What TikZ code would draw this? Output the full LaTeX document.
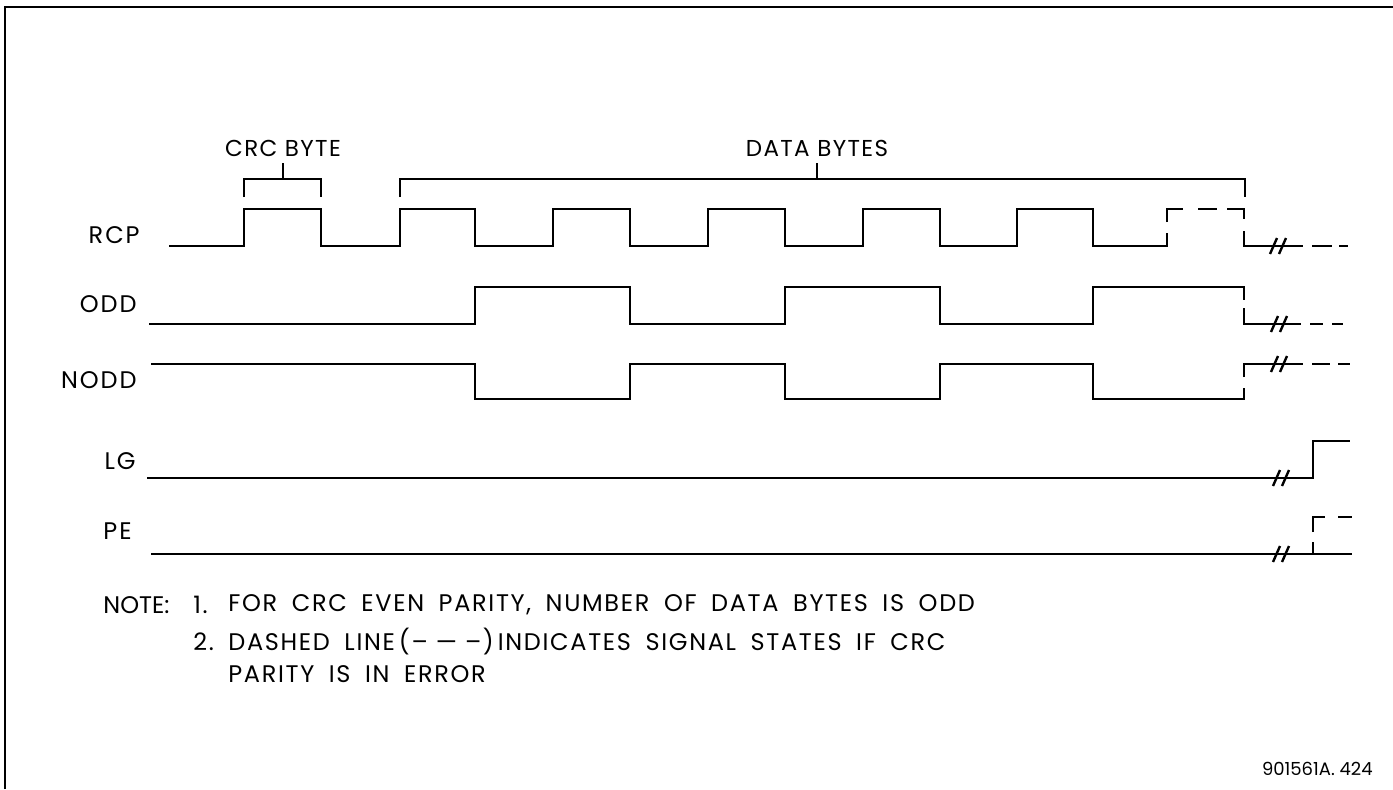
\documentclass[tikz,border=0pt]{standalone}
\usepackage{fontspec}
\setmainfont{Poppins}
\newfontfamily\sigfont[LetterSpace=8]{Poppins}
\newfontfamily\notefont[LetterSpace=7, WordSpace=1.8]{Poppins}
\newfontfamily\brkfont[LetterSpace=6]{Poppins}

% break mark: two slanted strokes across a line
\newcommand{\brkmark}[2]{%
  \draw[sig] (#1-6,#2+8) -- (#1+1,#2-8);
  \draw[sig] (#1+3,#2+8) -- (#1+10,#2-8);}

\begin{document}
\begin{tikzpicture}[x=0.5pt, y=-0.5pt,
    sig/.style={line width=1.2pt},
    lbl/.style={anchor=east, inner sep=0pt, font=\sigfont\fontsize{12}{14}\selectfont},
    brk/.style={inner sep=0pt, font=\brkfont\fontsize{11.5}{13}\selectfont},
    txt/.style={anchor=west, inner sep=0pt, font=\notefont\fontsize{12}{14}\selectfont}]
    \useasboundingbox (0,0) rectangle (1393,789);

    % Frame
    \draw[line width=1.4pt] (5,789) -- (5,7) -- (1393,7);

    % Signal names
    \node[lbl] (rcp) at (140,235) {RCP};
    \node[lbl] (odd) at (137,304) {ODD};
    \node[lbl] (nodd) at (137,380) {NODD};
    \node[lbl] (lg) at (136,461) {LG};
    \node[lbl] (pe) at (132,531) {PE};

    % Brackets
    \draw[sig] (244,197) -- (244,179) -- (321,179) -- (321,197);
    \draw[sig] (283,179) -- (283,163);
    \node[brk] (crc) at (283,148) {CRC BYTE};
    \draw[sig] (400,197) -- (400,179) -- (1245,179) -- (1245,197);
    \draw[sig] (817,179) -- (817,163);
    \node[brk] (data) at (817,148) {DATA BYTES};

    % RCP
    \draw[sig] (169,246) -- (244,246) -- (244,209) -- (321,209) -- (321,246)
      -- (400,246) -- (400,209) -- (475,209) -- (475,246)
      -- (553,246) -- (553,209) -- (630,209) -- (630,246)
      -- (708,246) -- (708,209) -- (785,209) -- (785,246)
      -- (863,246) -- (863,209) -- (940,209) -- (940,246)
      -- (1017,246) -- (1017,209) -- (1093,209) -- (1093,246)
      -- (1167,246) -- (1167,233);
    \draw[sig] (1167,222) -- (1167,209) -- (1183,209);
    \draw[sig] (1198,209) -- (1217,209);
    \draw[sig] (1227,209) -- (1244,209) -- (1244,219);
    \draw[sig] (1244,231) -- (1244,246) -- (1303,246);
    \brkmark{1276}{246}
    \draw[sig] (1312,246) -- (1332,246);
    \draw[sig] (1339,246) -- (1348,246);

    % ODD
    \draw[sig] (149,324) -- (475,324) -- (475,287) -- (630,287) -- (630,324)
      -- (785,324) -- (785,287) -- (940,287) -- (940,324)
      -- (1093,324) -- (1093,287) -- (1244,287) -- (1244,300);
    \draw[sig] (1244,308) -- (1244,324) -- (1301,324);
    \brkmark{1277}{324}
    \draw[sig] (1310,324) -- (1323,324);
    \draw[sig] (1332,324) -- (1343,324);

    % NODD
    \draw[sig] (151,364) -- (475,364) -- (475,399) -- (630,399) -- (630,364)
      -- (785,364) -- (785,399) -- (940,399) -- (940,364)
      -- (1093,364) -- (1093,399) -- (1244,399) -- (1244,388);
    \draw[sig] (1244,377) -- (1244,364) -- (1303,364);
    \brkmark{1277}{364}
    \draw[sig] (1312,364) -- (1330,364);
    \draw[sig] (1338,364) -- (1350,364);

    % LG
    \draw[sig] (147,478) -- (1313,478) -- (1313,441) -- (1350,441);
    \brkmark{1279}{478}

    % PE
    \draw[sig] (151,554) -- (1352,554);
    \brkmark{1279}{554}
    \draw[sig] (1313,554) -- (1313,542);
    \draw[sig] (1313,532) -- (1313,517) -- (1325,517);
    \draw[sig] (1338,517) -- (1352,517);

    % Notes
    \node[txt, font=\fontsize{12}{14}\selectfont] (note) at (103,605) {NOTE:};
    \node[txt] (n1) at (193,605) {1.};
    \node[txt] (t1) at (228,605) {FOR CRC EVEN PARITY,\ NUMBER OF DATA BYTES IS ODD};
    \node[txt] (n2) at (193,642) {2.};
    \node[txt] (t2) at (228,642) {DASHED LINE\,(–\,\,—\,\,–)\,INDICATES SIGNAL STATES IF CRC};
    \node[txt] (t3) at (228,674) {PARITY IS IN ERROR};

    % Drawing number
    \node[anchor=east, inner sep=0pt, font=\fontsize{9}{11}\selectfont] (num) at (1373,769) {901561A.\ 424};
\end{tikzpicture}
\end{document}
